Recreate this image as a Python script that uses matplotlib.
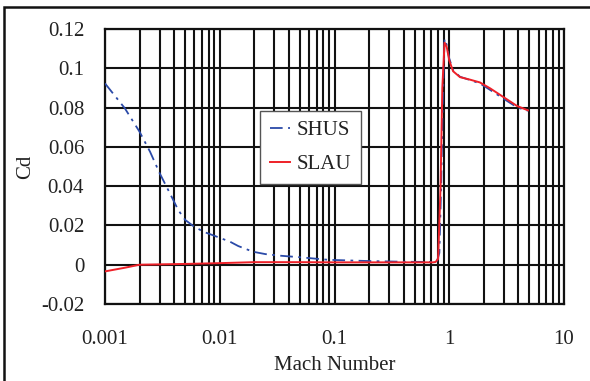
import numpy as np
import matplotlib
matplotlib.use("Agg")
import matplotlib.pyplot as plt
from matplotlib.patches import Rectangle
from matplotlib.ticker import LogLocator, NullFormatter

plt.rcParams['font.family'] = ['Liberation Serif', 'DejaVu Serif']

# SHUS (blue dash-dot)
shus_mach = [0.001, 0.00149, 0.002, 0.00247, 0.003, 0.00368, 0.00435, 0.005, 0.00588,
             0.0072, 0.0094, 0.0123, 0.0145, 0.0195, 0.025, 0.0335, 0.05, 0.088,
             0.19, 0.4, 0.72, 0.78, 0.82, 0.85, 0.88, 0.91, 0.95, 1.0, 1.08, 1.24,
             1.52, 1.85, 2.27, 2.94, 3.9, 4.85]
shus_cd = [0.0923, 0.0796, 0.0677, 0.0575, 0.0465, 0.0363, 0.0278, 0.0228, 0.0197,
           0.0168, 0.0143, 0.0117, 0.0095, 0.0066, 0.0054, 0.0046, 0.0038, 0.0025,
           0.0019, 0.0015, 0.0014, 0.0016, 0.006, 0.04, 0.085, 0.115, 0.112, 0.105,
           0.099, 0.0957, 0.094, 0.0923, 0.089, 0.0847, 0.0801, 0.0784]

# SLAU (red solid)
slau_mach = [0.001, 0.0015, 0.002, 0.005, 0.01, 0.02, 0.05, 0.1, 0.3, 0.72,
             0.76, 0.8, 0.84, 0.87, 0.91, 0.95, 1.0, 1.08, 1.24, 1.52, 1.85,
             2.27, 2.94, 3.9, 4.85]
slau_cd = [-0.0034, -0.0015, 0.0, 0.0004, 0.0008, 0.0013, 0.0013, 0.0012, 0.0012, 0.0012,
           0.0014, 0.003, 0.04, 0.09, 0.113, 0.111, 0.104, 0.0985, 0.0955, 0.0942, 0.0928,
           0.0898, 0.0855, 0.0808, 0.0786]

x_ticks = [0.001, 0.01, 0.1, 1, 10]
x_ticklabels = ['0.001', '0.01', '0.1', '1', '10']
y_ticks = [-0.02, 0, 0.02, 0.04, 0.06, 0.08, 0.1, 0.12]
y_ticklabels = ['-0.02', '0', '0.02', '0.04', '0.06', '0.08', '0.1', '0.12']

fig = plt.figure(figsize=(5.90, 3.81), dpi=100)
ax = fig.add_axes([105/590, 1-304/381, (564-105)/590, (304-29)/381])

ax.set_xscale('log')
ax.set_xlim(0.001, 10)
ax.set_ylim(-0.02, 0.12)

ax.set_xticks(x_ticks)
ax.set_xticklabels(x_ticklabels)
ax.xaxis.set_minor_locator(LogLocator(base=10, subs=np.arange(2, 10)))
ax.xaxis.set_minor_formatter(NullFormatter())
ax.set_yticks(y_ticks)
ax.set_yticklabels(y_ticklabels)

ax.grid(True, which='both', axis='x', color='#111111', linewidth=1.5)
ax.grid(True, which='major', axis='y', color='#111111', linewidth=1.5)
ax.tick_params(which='both', length=0, labelsize=15, labelcolor='#222222')
ax.tick_params(axis='y', pad=15)
ax.tick_params(axis='x', pad=19)
for s in ax.spines.values():
    s.set_color('#111111')
    s.set_linewidth(1.6)
ax.set_axisbelow(True)

ax.plot(shus_mach, shus_cd, color='#2b4aa8', linewidth=1.3,
        linestyle=(0, (7, 3, 1.5, 3)), label='SHUS', zorder=3)
ax.plot(slau_mach, slau_cd, color='#ee2028', linewidth=1.4, label='SLAU', zorder=4)

ax.set_xlabel('Mach Number', fontsize=15, labelpad=5, color='#222222')
ax.set_ylabel('Cd', fontsize=15, labelpad=4, color='#222222')

leg = ax.legend(loc='center', bbox_to_anchor=(310.5/590, 1-147.5/381),
                bbox_transform=fig.transFigure, fontsize=15, frameon=True,
                fancybox=False, handlelength=1.0, handletextpad=0.3,
                labelspacing=0.7, borderpad=0.45, borderaxespad=0)
leg.get_frame().set_edgecolor('#555555')
leg.get_frame().set_linewidth(1.0)
leg.get_frame().set_alpha(1)
for t in leg.get_texts():
    t.set_color('#222222')

fig.patches.append(Rectangle((4/590, -0.1), 1.2, 1 - 7/381 + 0.1, transform=fig.transFigure,
                             fill=False, edgecolor='#111111', linewidth=1.8))

fig.savefig('out.png', dpi=100)
